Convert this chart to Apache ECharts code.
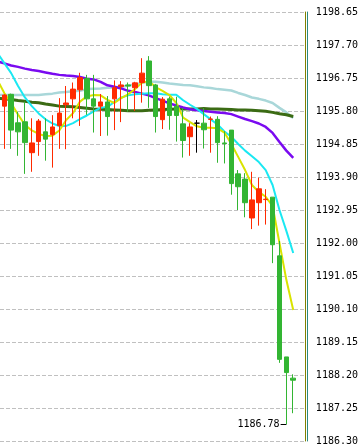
<!DOCTYPE html>
<html><head><meta charset="utf-8">
<script src="https://cdn.jsdelivr.net/npm/echarts@6/dist/echarts.min.js"></script>
<style>html,body{margin:0;padding:0;background:#fff}#c{width:361px;height:447px}</style>
</head><body><div id="c"></div>
<script>
// ---- data ----
const opens  = [1195.94,1196.28,1195.46,1195.49,1194.60,1194.92,1195.20,1195.12,1195.38,1195.98,
                1196.15,1196.41,1196.74,1196.15,1195.94,1196.06,1196.15,1196.50,1196.55,1196.47,
                1196.62,1197.24,1196.55,1195.55,1196.15,1195.94,1195.43,1195.06,1195.45,1195.45,
                1195.56,1195.56,1194.88,1195.25,1193.99,1193.84,1192.72,1193.16,1193.25,1193.32,
                1191.63,1188.72,1188.11];
const closes = [1196.26,1195.25,1195.20,1194.89,1194.88,1195.51,1194.99,1195.34,1195.74,1196.03,
                1196.43,1196.76,1196.15,1195.94,1196.06,1195.64,1196.47,1196.55,1196.52,1196.61,
                1196.89,1196.53,1195.64,1196.14,1195.67,1195.67,1194.95,1195.34,1195.45,1195.26,
                1195.57,1194.89,1194.86,1193.71,1193.62,1193.16,1193.24,1193.56,1193.26,1191.95,
                1188.65,1188.27,1188.05];
const lows   = [1194.71,1194.71,1194.51,1193.99,1194.05,1194.51,1194.37,1194.17,1194.71,1194.70,
                1195.59,1195.37,1195.69,1195.18,1195.08,1195.09,1195.25,1195.48,1195.78,1195.80,
                1196.04,1195.89,1195.18,1195.28,1195.26,1194.92,1194.46,1194.51,1194.60,1194.72,
                1194.60,1194.31,1194.29,1193.39,1192.95,1192.74,1192.40,1192.50,1192.53,1191.42,
                1188.55,1186.78,1187.10];
const highs  = [1196.28,1196.30,1195.78,1196.07,1195.59,1195.57,1195.59,1195.68,1196.17,1196.52,
                1196.62,1196.90,1196.84,1196.84,1196.29,1196.23,1196.68,1196.66,1196.62,1196.64,
                1197.32,1197.38,1196.58,1196.20,1196.21,1196.21,1195.89,1195.45,1195.54,1195.88,
                1195.64,1195.65,1195.22,1195.25,1194.10,1194.01,1194.05,1193.88,1193.55,1193.32,
                1192.06,1188.72,1188.22];

// moving averages, first value belongs to the bar before the first visible candle
const MA_START = -1;
const maYellow = [1196.69,1196.32,1196.02,1195.70,1195.40,1195.24,1195.14,1195.08,1195.09,1195.24,
                  1195.54,1195.74,1196.07,1196.22,1196.26,1196.25,1196.12,1196.03,1196.17,1196.28,
                  1196.43,1196.61,1196.66,1196.49,1196.38,1196.26,1196.03,1195.61,1195.48,1195.36,
                  1195.32,1195.32,1195.30,1195.18,1194.85,1194.48,1194.10,1193.67,1193.47,1193.33,
                  1193.07,1192.00,1190.94,1190.07];
const maCyan   = [1197.47,1197.18,1196.89,1196.52,1196.19,1195.94,1195.73,1195.56,1195.44,1195.37,
                  1195.37,1195.45,1195.57,1195.67,1195.79,1195.89,1195.92,1196.06,1196.19,1196.25,
                  1196.28,1196.30,1196.31,1196.31,1196.28,1196.27,1196.27,1196.11,1195.98,1195.86,
                  1195.71,1195.56,1195.41,1195.21,1195.06,1194.85,1194.66,1194.50,1194.33,1194.10,
                  1193.67,1192.95,1192.35,1191.71];
const maLight  = [1196.26,1196.26,1196.26,1196.26,1196.26,1196.26,1196.26,1196.28,1196.30,1196.33,
                  1196.35,1196.37,1196.38,1196.43,1196.44,1196.45,1196.47,1196.48,1196.50,1196.53,
                  1196.56,1196.61,1196.64,1196.64,1196.62,1196.59,1196.57,1196.55,1196.54,1196.51,
                  1196.48,1196.46,1196.43,1196.41,1196.39,1196.32,1196.26,1196.19,1196.15,1196.10,
                  1196.03,1195.89,1195.76,1195.60];
const maPurple = [1197.23,1197.17,1197.11,1197.07,1197.02,1196.98,1196.95,1196.91,1196.87,1196.84,
                  1196.82,1196.81,1196.78,1196.73,1196.71,1196.64,1196.54,1196.50,1196.45,1196.38,
                  1196.35,1196.30,1196.25,1196.17,1196.10,1196.02,1195.96,1195.90,1195.85,1195.82,
                  1195.80,1195.78,1195.76,1195.74,1195.71,1195.64,1195.57,1195.51,1195.44,1195.34,
                  1195.17,1194.91,1194.66,1194.45];
const maDark   = [1196.17,1196.15,1196.13,1196.10,1196.08,1196.05,1196.04,1196.00,1195.97,1195.94,
                  1195.93,1195.92,1195.90,1195.88,1195.86,1195.85,1195.84,1195.83,1195.82,1195.81,
                  1195.81,1195.81,1195.82,1195.83,1195.84,1195.85,1195.86,1195.86,1195.86,1195.86,
                  1195.87,1195.86,1195.86,1195.85,1195.84,1195.83,1195.83,1195.82,1195.81,1195.79,
                  1195.76,1195.72,1195.69,1195.64];

const yMin = 1186.30, yMax = 1198.65, yStep = 0.95;
const lowMarkIndex = 41, lowMarkValue = 1186.78;

// ---- build ----
const candleData = opens.map((o, i) => [i, o, closes[i], lows[i], highs[i]]);
const maSeries = (arr) => arr.map((v, k) => [k + MA_START, v]);

const chart = echarts.init(document.getElementById('c'), null, {renderer: 'canvas'});
const lineS = (name, arr, color, w) => ({
  name, type: 'line', data: maSeries(arr), showSymbol: false, symbol: 'none',
  lineStyle: {color, width: w}, z: 2, silent: true, animation: false
});
chart.setOption({
  backgroundColor: '#ffffff',
  animation: false,
  grid: {left: 0, right: 55, top: 12, bottom: 6},
  xAxis: {type: 'value', min: -0.623, max: 43.69, show: false},
  yAxis: [{
    type: 'value', position: 'right', min: yMin, max: yMax, interval: yStep,
    axisLine: {show: true, onZero: false, lineStyle: {color: '#808000', width: 1}},
    axisTick: {show: false},
    axisLabel: {color: '#000', fontFamily: 'DejaVu Sans Mono', fontSize: 10, margin: 11,
                formatter: v => v.toFixed(2)},
    splitLine: {show: true, lineStyle: {color: '#c0c0c0', type: [4, 2], width: 1}}
  }, {
    type: 'value', position: 'right', offset: 2, min: yMin, max: yMax, interval: yStep,
    axisLine: {show: true, onZero: false, lineStyle: {color: '#2a8a80', width: 1}},
    axisTick: {show: false}, axisLabel: {show: false}, splitLine: {show: false}
  }],
  series: [
    lineS('light', maLight, '#a9d7d9', 2.5),
    lineS('dark', maDark, '#3b6b14', 3),
    lineS('purple', maPurple, '#7a0af0', 2.5),
    lineS('cyan', maCyan, '#1ae8f2', 2),
    lineS('yellow', maYellow, '#d9e300', 2),
    {
      type: 'candlestick', data: candleData, encode: {x: 0, y: [1, 2, 3, 4]},
      barWidth: 5, z: 3, silent: true,
      itemStyle: {color: '#ff2a00', color0: '#33b533', borderColor: '#ff2a00',
                  borderColor0: '#33b533', borderColorDoji: '#000000', borderWidth: 1},
      markLine: {
        silent: true, symbol: ['none', 'none'], animation: false,
        lineStyle: {color: '#000', width: 1, type: 'solid'},
        label: {show: true, position: 'start', distance: 1, color: '#000',
                fontFamily: 'DejaVu Sans Mono', fontSize: 10, padding: [0, 0, 12, 0],
                formatter: lowMarkValue.toFixed(2)},
        data: [[{coord: [lowMarkIndex - 0.83, lowMarkValue]}, {coord: [lowMarkIndex, lowMarkValue]}]]
      }
    }
  ]
});
</script></body></html>
